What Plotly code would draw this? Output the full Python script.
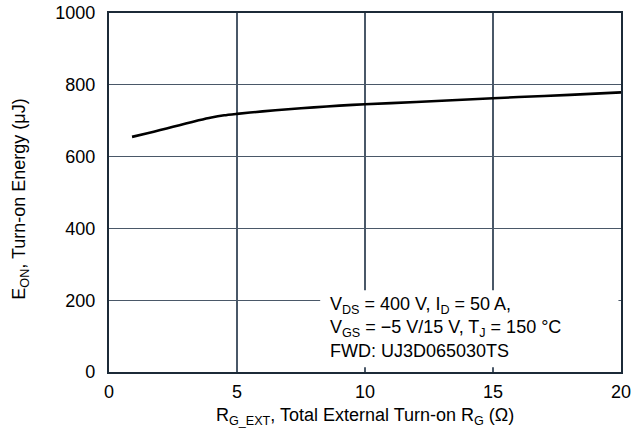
import plotly.graph_objects as go

rg = [0.9, 1.5, 2, 2.5, 3, 3.5, 4, 4.5, 5, 6, 7, 8, 9, 10, 12, 14, 16, 18, 20]
eon = [655, 665, 674, 683, 692, 701, 709, 715, 719, 726, 732, 737, 742, 746, 752, 759, 766, 772, 779]

x_ticks = [0, 5, 10, 15, 20]
y_ticks = [0, 200, 400, 600, 800, 1000]

x_title = "R<sub>G_EXT</sub>, Total External Turn-on R<sub>G</sub> (\u03a9)"
y_title = "E<sub>ON</sub>, Turn-on Energy (\u03bcJ)"
note = ("V<sub>DS</sub> = 400 V, I<sub>D</sub> = 50 A,<br>"
        "V<sub>GS</sub> = \u22125 V/15 V, T<sub>J</sub> = 150 \u00b0C<br>"
        "FWD: UJ3D065030TS")

font_family = "Liberation Sans, Arial, Helvetica, sans-serif"
grid_color = "#4a5868"
axis_color = "#1c2a38"

fig = go.Figure()
fig.add_trace(go.Scatter(x=rg, y=eon, mode="lines",
                         line=dict(color="black", width=2.6, shape="spline", smoothing=0.6),
                         showlegend=False, hoverinfo="skip"))

fig.add_shape(type="rect", xref="x", yref="y", x0=8.25, x1=19.9, y0=13, y1=228,
              fillcolor="white", line=dict(width=0), layer="between")

fig.add_annotation(x=8.55, y=125, xref="x", yref="y", xanchor="left", yanchor="middle",
                   align="left", showarrow=False, text=note,
                   font=dict(family=font_family, size=18, color="black"))

fig.add_annotation(x=0.5, y=0, xref="paper", yref="paper", xanchor="center", yanchor="middle",
                   yshift=-44, showarrow=False, text=x_title,
                   font=dict(family=font_family, size=18, color="black"))

fig.add_annotation(x=0, y=0.48, xref="paper", yref="paper", xanchor="center", yanchor="middle",
                   xshift=-88, textangle=-90, showarrow=False, text=y_title,
                   font=dict(family=font_family, size=18, color="black"))

fig.update_layout(
    width=637, height=436,
    margin=dict(l=109, r=16, t=13, b=64),
    paper_bgcolor="white", plot_bgcolor="white",
    font=dict(family=font_family, size=18, color="black"),
    xaxis=dict(range=[0, 20], tickvals=x_ticks, ticks="", showgrid=True,
               gridcolor=grid_color, gridwidth=1.3, zeroline=False,
               showline=True, linecolor=axis_color, linewidth=2.2, mirror=True,
               ticklabelstandoff=2, automargin=False, ticklabeloverflow="allow"),
    yaxis=dict(range=[0, 1000], tickvals=y_ticks, ticks="", showgrid=True,
               gridcolor=grid_color, gridwidth=1.3, zeroline=False,
               showline=True, linecolor=axis_color, linewidth=2.2, mirror=True,
               ticklabelstandoff=8, automargin=False, ticklabeloverflow="allow"),
)

fig.write_html("out.html", config={"displayModeBar": False, "staticPlot": True},
               post_script="document.body.style.margin='0';document.body.style.overflow='hidden';")
